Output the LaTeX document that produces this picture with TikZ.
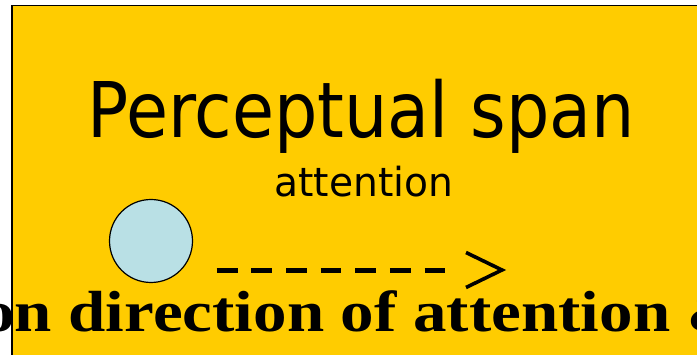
\documentclass[tikz,border=0pt]{standalone}
\usepackage{fontspec}
\usepackage{xcolor}
\usepackage{tikz}
\newfontfamily\spanfont[FakeStretch=0.89]{DejaVu Sans}
\newfontfamily\attnfont[FakeStretch=0.98]{DejaVu Sans}
\newfontfamily\capfont[FakeStretch=1.155]{Liberation Serif}
\definecolor{SlideYellow}{RGB}{255,204,0}
\definecolor{SpotBlue}{RGB}{185,224,229}

\begin{document}
\begin{tikzpicture}[
  x=1pt, y=-1pt,
  panel/.style={draw=black, line width=1.7pt, fill=SlideYellow},
  bigtext/.style={anchor=base, inner sep=0pt, font=\spanfont\fontsize{76.8}{80}\selectfont},
  smalltext/.style={anchor=base, inner sep=0pt, font=\attnfont\fontsize{40}{44}\selectfont},
  captext/.style={anchor=base west, inner sep=0pt, font=\capfont\bfseries\fontsize{58}{62}\selectfont},
  spot/.style={circle, draw=black, line width=1.2pt, fill=SpotBlue,
               minimum size=83pt, inner sep=0pt},
  dashline/.style={line width=5.5pt, dash pattern=on 20.8pt off 13.85pt},
  chevron/.style={line width=3.6pt, miter limit=10},
]
  \useasboundingbox (0,0) rectangle (697,355);
  \clip (0,0) rectangle (697,355);

  \draw[panel] (12,5.5) rectangle (720,380);

  \node[bigtext] (title) at (361,138) {Perceptual span};
  \node[smalltext] (attn) at (364,197) {attention};

  \node[spot] (eye) at (151,241) {};

  \coordinate (dstart) at (216.7,270.5);
  \coordinate (dend) at (446,270.5);
  \draw[dashline] (dstart) -- (dend);

  \coordinate (ctop) at (466,252.5);
  \coordinate (ctip) at (502,270);
  \coordinate (cbot) at (466,287.5);
  \draw[chevron] (ctop) -- (ctip) -- (cbot);

  \node[captext] (caption) at (-19,332) {on direction of attention \&};
\end{tikzpicture}
\end{document}
